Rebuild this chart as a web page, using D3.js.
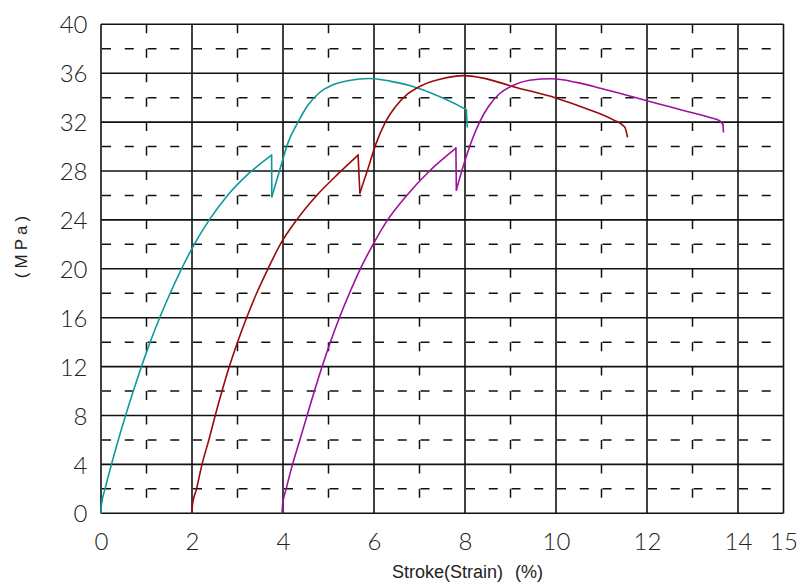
<!DOCTYPE html>
<html>
<head>
<meta charset="utf-8">
<script src="https://cdn.jsdelivr.net/npm/d3@7"></script>
<style>
  html, body { margin: 0; padding: 0; background: #fff; }
  svg { display: block; }
</style>
</head>
<body>
<svg id="chart" width="797" height="586"></svg>
<script>
// ---- data ----
const xTickValues = [0, 2, 4, 6, 8, 10, 12, 14, 15];
const yTickValues = [0, 4, 8, 12, 16, 20, 24, 28, 32, 36, 40];
const xLabel = "Stroke(Strain) (%)";
const yLabel = "(MPa)";
const seriesColors = ["#0f9a9a", "#990a0a", "#a010a0"];

const tealX = [0, 0.01, 0.09, 0.23, 0.38, 0.54, 0.71, 0.89, 1.08, 1.29, 1.52, 1.77, 2.05, 2.38, 2.78, 3.25, 3.75,
               3.755, 3.93, 4.11, 4.33, 4.55, 4.80, 5.10, 5.45, 5.91, 6.35, 6.82, 7.37, 7.81, 8.03, 8.05];
const tealY = [0, 0.7, 2.0, 4.0, 6.0, 8.0, 10.0, 12.0, 14.0, 16.0, 18.0, 20.0, 22.0, 24.0, 26.0, 27.8, 29.3,
               25.9, 28.1, 30.3, 32.0, 33.4, 34.4, 35.05, 35.4, 35.57, 35.35, 34.95, 34.2, 33.45, 33.0, 31.6];

const redX = [2.0, 2.01, 2.10, 2.22, 2.37, 2.51, 2.66, 2.82, 3.00, 3.20, 3.42, 3.67, 3.94, 4.30, 4.74, 5.22, 5.65,
              5.69, 5.86, 6.04, 6.25, 6.48, 6.74, 7.05, 7.45, 7.96, 8.40, 9.06, 10.01, 10.67, 11.25, 11.51, 11.57];
const redY = [0, 0.7, 2.0, 4.0, 6.0, 8.0, 10.0, 12.0, 14.0, 16.0, 18.0, 20.0, 22.0, 24.0, 26.0, 27.8, 29.3,
              26.2, 28.1, 30.2, 32.0, 33.3, 34.3, 35.0, 35.5, 35.8, 35.6, 34.9, 33.96, 33.1, 32.2, 31.6, 30.8];

const purpleX = [3.98, 3.99, 4.07, 4.21, 4.37, 4.53, 4.69, 4.86, 5.04, 5.24, 5.46, 5.70, 5.98, 6.30, 6.72, 7.22, 7.80,
                 7.81, 7.97, 8.14, 8.32, 8.52, 8.75, 9.05, 9.42, 9.90, 10.45, 11.00, 11.60, 12.20, 12.80, 13.40, 13.60, 13.67, 13.68];
const purpleY = [0, 0.7, 2.0, 4.0, 6.0, 8.0, 10.0, 12.0, 14.0, 16.0, 18.0, 20.0, 22.0, 24.0, 26.0, 28.0, 29.87,
                 26.45, 28.5, 30.4, 32.0, 33.3, 34.3, 35.0, 35.42, 35.54, 35.25, 34.75, 34.15, 33.55, 32.95, 32.35, 32.1, 31.8, 31.2];

const series = [
  { xs: tealX, ys: tealY, color: seriesColors[0] },
  { xs: redX, ys: redY, color: seriesColors[1] },
  { xs: purpleX, ys: purpleY, color: seriesColors[2] }
];

// ---- layout ----
const svg = d3.select("#chart");
const plot = { left: 101, right: 783.5, top: 24.3, bottom: 513.3 };
const x = d3.scaleLinear().domain([0, 15]).range([plot.left, plot.right]);
const y = d3.scaleLinear().domain([0, 40]).range([plot.bottom, plot.top]);

const gridColor = "#111";
const g = svg.append("g");

// dashed horizontal minor grid (y = 2, 6, ..., 38)
const minorY = d3.range(2, 40, 4);
const halfUnitX = x(0.5) - x(0);
g.selectAll("line.hminor").data(minorY).join("line")
  .attr("x1", x(0) + 1).attr("x2", x(15))
  .attr("y1", d => y(d)).attr("y2", d => y(d))
  .attr("stroke", gridColor).attr("stroke-width", 1.5)
  .attr("stroke-dasharray", `9,${halfUnitX - 9}`);

// dashed vertical minor grid (x = 1, 3, ..., 13)
const minorX = d3.range(1, 14, 2);
const twoUnitsY = y(0) - y(2);
g.selectAll("line.vminor").data(minorX).join("line")
  .attr("x1", d => x(d)).attr("x2", d => x(d))
  .attr("y1", y(40)).attr("y2", y(0))
  .attr("stroke", gridColor).attr("stroke-width", 1.5)
  .attr("stroke-dasharray", `9,${twoUnitsY - 9}`);

// solid major grid
const majorY = d3.range(0, 41, 4);
g.selectAll("line.hmajor").data(majorY).join("line")
  .attr("x1", x(0)).attr("x2", x(15))
  .attr("y1", d => y(d)).attr("y2", d => y(d))
  .attr("stroke", gridColor).attr("stroke-width", 1.6);
const majorX = d3.range(0, 15, 2).concat([15]);
g.selectAll("line.vmajor").data(majorX).join("line")
  .attr("x1", d => x(d)).attr("x2", d => x(d))
  .attr("y1", y(40)).attr("y2", y(0))
  .attr("stroke", gridColor).attr("stroke-width", 1.6);

// ---- curves: smooth pieces, with the sudden drops drawn straight ----
const smooth = d3.line().x(d => x(d[0])).y(d => y(d[1])).curve(d3.curveMonotoneX);
const straight = d3.line().x(d => x(d[0])).y(d => y(d[1]));
function pieces(s) {
  const pts = s.xs.map((v, i) => [v, s.ys[i]]);
  const out = [];
  let cur = [pts[0]];
  for (let i = 1; i < pts.length; i++) {
    const dx = pts[i][0] - pts[i - 1][0], dy = pts[i][1] - pts[i - 1][1];
    if (dx < 0.05 && dy < -0.5) {
      out.push({ pts: cur, smooth: true });
      out.push({ pts: [pts[i - 1], pts[i]], smooth: false });
      cur = [pts[i]];
    } else {
      cur.push(pts[i]);
    }
  }
  if (cur.length > 1) out.push({ pts: cur, smooth: true });
  return out.map(p => ({ ...p, color: s.color }));
}
const allPieces = series.flatMap(pieces);
svg.append("g").selectAll("path").data(allPieces).join("path")
  .attr("d", p => (p.smooth ? smooth : straight)(p.pts))
  .attr("fill", "none")
  .attr("stroke", p => p.color)
  .attr("stroke-width", 1.6)
  .attr("stroke-linejoin", "round")
  .attr("stroke-linecap", "round");

// ---- axes (labels only, via d3 axis generators) ----
const tickFont = "Lato, 'DejaVu Sans', sans-serif";
const xAxis = d3.axisBottom(x).tickValues(xTickValues).tickSize(0).tickPadding(0).tickFormat(d3.format("d"));
const xg = svg.append("g").attr("transform", `translate(0, ${plot.bottom})`).call(xAxis);
xg.select(".domain").remove();
xg.selectAll("text")
  .attr("y", 36.5).attr("dy", null)
  .attr("font-family", tickFont).attr("font-weight", 300).attr("font-size", 24).attr("fill", "#222");

const yAxis = d3.axisLeft(y).tickValues(yTickValues).tickSize(0).tickPadding(0).tickFormat(d3.format("d"));
const yg = svg.append("g").attr("transform", `translate(87.5, 0)`).call(yAxis);
yg.select(".domain").remove();
yg.selectAll("text")
  .attr("x", 0).attr("dy", "0.36em")
  .attr("font-family", tickFont).attr("font-weight", 300).attr("font-size", 24).attr("fill", "#222");

// axis titles
svg.append("text")
  .attr("x", 392).attr("y", 578)
  .attr("font-family", "'Liberation Sans', Arial, sans-serif")
  .attr("font-size", 18).attr("word-spacing", 7).attr("fill", "#222")
  .text(xLabel);

svg.append("text")
  .attr("transform", "translate(27, 245) rotate(-90)")
  .attr("text-anchor", "middle")
  .attr("font-family", "'Liberation Sans', Arial, sans-serif")
  .attr("font-size", 17).attr("letter-spacing", 4).attr("fill", "#222")
  .text(yLabel);
</script>
</body>
</html>
